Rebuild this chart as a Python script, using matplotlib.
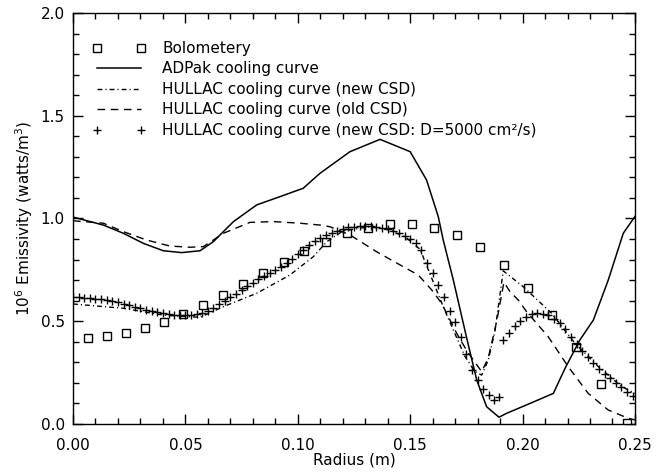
import matplotlib
matplotlib.use("Agg")
import matplotlib.pyplot as plt
from matplotlib.ticker import MultipleLocator, FormatStrFormatter

# Bolometry measurements
bolo_r = [0.0068, 0.0153, 0.0236, 0.0320, 0.0406, 0.0490, 0.0580, 0.0666, 0.0758,
          0.0847, 0.0939, 0.1029, 0.1124, 0.1220, 0.1314, 0.1410, 0.1510, 0.1607,
          0.1710, 0.1810, 0.1919, 0.2023, 0.2130, 0.2239, 0.2349, 0.2463]
bolo_v = [0.420, 0.428, 0.443, 0.466, 0.496, 0.534, 0.578, 0.626, 0.680,
          0.735, 0.788, 0.843, 0.887, 0.931, 0.955, 0.975, 0.975, 0.955,
          0.920, 0.860, 0.772, 0.663, 0.532, 0.376, 0.193, 0.003]

# ADPak cooling curve
adpak_r = [0.0, 0.0135, 0.0224, 0.0313, 0.0402, 0.0483, 0.0565, 0.0624, 0.0713,
           0.0817, 0.0920, 0.1024, 0.1099, 0.1232, 0.1366, 0.1500, 0.1573, 0.1625,
           0.1647, 0.1692, 0.1751, 0.1796, 0.1840, 0.1895, 0.1929, 0.2033, 0.2137,
           0.2189, 0.2255, 0.2315, 0.2381, 0.2448, 0.2500]
adpak_v = [1.007, 0.968, 0.928, 0.879, 0.843, 0.834, 0.843, 0.887, 0.984,
           1.066, 1.106, 1.147, 1.220, 1.325, 1.385, 1.325, 1.187, 1.009,
           0.895, 0.700, 0.420, 0.214, 0.084, 0.033, 0.052, 0.100, 0.149,
           0.271, 0.409, 0.506, 0.700, 0.928, 1.010]

# HULLAC cooling curve (new CSD)
new_r = [0.0, 0.0224, 0.0402, 0.0520, 0.0565, 0.0669, 0.0817, 0.0965, 0.1069,
         0.1129, 0.1202, 0.1321, 0.1410, 0.1484, 0.1544, 0.1603, 0.1647, 0.1692,
         0.1744, 0.1788, 0.1818, 0.1847, 0.1877, 0.1914, 0.2003, 0.2129, 0.2233,
         0.2337, 0.2441, 0.2500]
new_v = [0.584, 0.563, 0.530, 0.522, 0.519, 0.571, 0.636, 0.725, 0.814,
         0.887, 0.940, 0.960, 0.944, 0.905, 0.850, 0.690, 0.571, 0.457,
         0.328, 0.255, 0.238, 0.310, 0.450, 0.745, 0.668, 0.539, 0.393,
         0.279, 0.182, 0.149]

# HULLAC cooling curve (old CSD)
old_r = [0.0, 0.0135, 0.0224, 0.0328, 0.0431, 0.0520, 0.0580, 0.0669, 0.0787,
         0.0891, 0.1010, 0.1099, 0.1143, 0.1232, 0.1351, 0.1455, 0.1536, 0.1596,
         0.1640, 0.1670, 0.1707, 0.1750, 0.1788, 0.1818, 0.1847, 0.1885, 0.1917,
         0.1944, 0.1981, 0.2018, 0.2114, 0.2203, 0.2292, 0.2381, 0.2470, 0.2500]
old_v = [0.989, 0.977, 0.936, 0.895, 0.866, 0.860, 0.863, 0.928, 0.981,
         0.985, 0.977, 0.968, 0.960, 0.920, 0.838, 0.774, 0.725, 0.652,
         0.587, 0.522, 0.441, 0.360, 0.300, 0.255, 0.320, 0.500, 0.690,
         0.644, 0.603, 0.546, 0.425, 0.279, 0.149, 0.068, 0.028, 0.020]

# HULLAC cooling curve (new CSD: D=5000 cm^2/s)
diff_r = [0.0, 0.0025, 0.005, 0.0075, 0.010, 0.0125, 0.015, 0.0175, 0.020, 0.0225,
          0.025, 0.0275, 0.030, 0.0325, 0.035, 0.0375, 0.040, 0.0425, 0.045, 0.0475,
          0.050, 0.0525, 0.055, 0.0575, 0.060, 0.0625, 0.065, 0.0675, 0.070, 0.0725,
          0.075, 0.0775, 0.080, 0.0825, 0.085, 0.0875, 0.090, 0.0925, 0.095, 0.0975,
          0.100, 0.1025, 0.105, 0.1075, 0.110, 0.1125, 0.115, 0.1175, 0.120, 0.1225,
          0.125, 0.1275, 0.130, 0.1325, 0.135, 0.1375, 0.140, 0.1425, 0.145, 0.1475,
          0.150, 0.1525, 0.155, 0.1575, 0.160, 0.1625, 0.165, 0.1675, 0.170, 0.1725,
          0.175, 0.1775, 0.180, 0.1825, 0.185, 0.1875, 0.1895,
          0.1915, 0.194, 0.1965, 0.199, 0.2015, 0.204, 0.2065, 0.209, 0.2115, 0.214,
          0.2165, 0.219, 0.2215, 0.224, 0.2265, 0.229, 0.2315, 0.234, 0.2365, 0.239,
          0.2415, 0.244, 0.2465, 0.249]
diff_v = [0.617, 0.616, 0.614, 0.612, 0.610, 0.607, 0.603, 0.598, 0.592, 0.586,
          0.579, 0.571, 0.563, 0.555, 0.549, 0.544, 0.539, 0.535, 0.532, 0.530,
          0.530, 0.531, 0.533, 0.540, 0.550, 0.565, 0.582, 0.600, 0.620, 0.634,
          0.652, 0.670, 0.688, 0.705, 0.720, 0.735, 0.750, 0.766, 0.784, 0.805,
          0.826, 0.849, 0.870, 0.889, 0.905, 0.919, 0.931, 0.941, 0.950, 0.957,
          0.961, 0.963, 0.964, 0.963, 0.960, 0.955, 0.948, 0.939, 0.929, 0.916,
          0.900, 0.880, 0.848, 0.785, 0.735, 0.675, 0.620, 0.550, 0.495, 0.425,
          0.340, 0.265, 0.215, 0.170, 0.140, 0.118, 0.133,
          0.410, 0.445, 0.475, 0.502, 0.522, 0.535, 0.539, 0.537, 0.528, 0.513,
          0.490, 0.460, 0.425, 0.388, 0.355, 0.325, 0.295, 0.268, 0.243, 0.222,
          0.200, 0.180, 0.158, 0.138]

labels = ["Bolometery", "ADPak cooling curve", "HULLAC cooling curve (new CSD)",
          "HULLAC cooling curve (old CSD)",
          "HULLAC cooling curve (new CSD: D=5000 cm\u00b2/s)"]

plt.rcParams['font.family'] = ['DejaVu Sans']
plt.rcParams['mathtext.default'] = 'regular'

fig = plt.figure(figsize=(6.71, 4.72), dpi=100)
ax = fig.add_axes([0.1088, 0.1017, 0.9463 - 0.1088, 0.9725 - 0.1017])

ax.plot(bolo_r, bolo_v, ls='none', marker='s', ms=5.5, mfc='white', mec='black',
        mew=1.0, label=labels[0])
ax.plot(adpak_r, adpak_v, color='black', lw=1.1, label=labels[1])
ax.plot(new_r, new_v, color='black', lw=1.0, dashes=(3.5, 2.2, 0.8, 2.2), label=labels[2])
ax.plot(old_r, old_v, color='black', lw=1.0, dashes=(5.5, 4.0), label=labels[3])
ax.plot(diff_r, diff_v, ls='none', marker='+', ms=6, mew=1.0, color='black', label=labels[4])

ax.set_xlim(0.0, 0.25)
ax.set_ylim(0.0, 2.0)
ax.xaxis.set_major_locator(MultipleLocator(0.05))
ax.xaxis.set_minor_locator(MultipleLocator(0.01))
ax.yaxis.set_major_locator(MultipleLocator(0.5))
ax.yaxis.set_minor_locator(MultipleLocator(0.1))
ax.xaxis.set_major_formatter(FormatStrFormatter('%.2f'))
ax.yaxis.set_major_formatter(FormatStrFormatter('%.1f'))
ax.tick_params(which='both', direction='in', top=True, right=True, width=1.0,
               labelsize=11)
ax.tick_params(which='major', length=7)
ax.tick_params(which='minor', length=4)
ax.tick_params(axis='x', which='major', pad=10)
ax.tick_params(axis='y', which='major', pad=6)
for s in ax.spines.values():
    s.set_linewidth(1.0)

ax.set_xlabel("Radius (m)", fontsize=11, labelpad=0)
ax.set_ylabel("10$^6$ Emissivity (watts/m$^3$)", fontsize=11, labelpad=4)

ax.legend(loc='upper left', bbox_to_anchor=(0.034, 0.932), frameon=False,
          numpoints=2, handlelength=3.5, handletextpad=1.1, labelspacing=0.36,
          borderpad=0, borderaxespad=0, fontsize=11)

fig.savefig("out.png", dpi=100)
